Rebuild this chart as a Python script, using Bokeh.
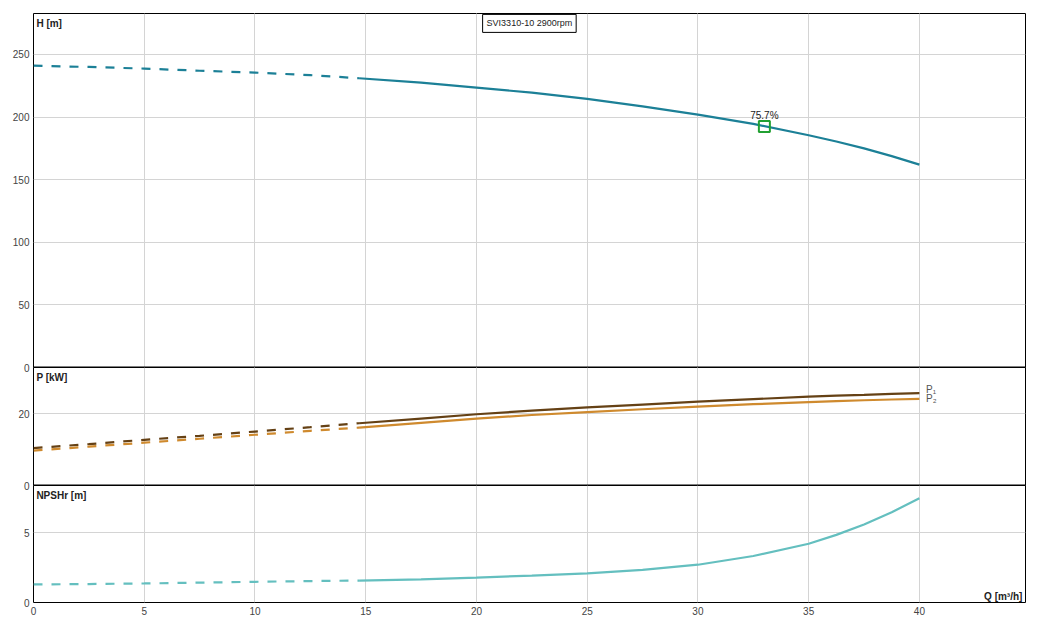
from bokeh.plotting import figure
from bokeh.layouts import column
from bokeh.models import Range1d, FixedTicker, Label, Grid, Span
from bokeh.embed import file_html
from bokeh.resources import INLINE

# ---- data ----
Q    = [0, 2.5, 5, 7.5, 10, 12.5, 14.7, 17.5, 20, 22.5, 25, 27.5, 30, 32.5, 35, 36.25, 37.5, 38.75, 40]
H    = [241, 240, 238.7, 237, 235.5, 233.5, 231, 227.5, 223.5, 219.5, 214.5, 208.5, 202, 194.5, 185.5, 180.5, 175, 168.8, 162]
P1   = [10.4, 11.5, 12.7, 13.8, 15.0, 16.2, 17.3, 18.6, 19.8, 20.8, 21.7, 22.5, 23.3, 24.0, 24.7, 25.0, 25.2, 25.45, 25.7]
P2   = [9.7, 10.8, 11.9, 13.0, 14.1, 15.2, 16.1, 17.4, 18.6, 19.6, 20.4, 21.2, 21.9, 22.6, 23.2, 23.45, 23.7, 23.9, 24.1]
NPSH = [1.29, 1.32, 1.36, 1.42, 1.48, 1.53, 1.57, 1.65, 1.78, 1.92, 2.08, 2.33, 2.70, 3.32, 4.20, 4.83, 5.58, 6.45, 7.45]
Q_MIN = 14.7

X_TICKS = [0, 5, 10, 15, 20, 25, 30, 35, 40]
H_TICKS = [0, 50, 100, 150, 200, 250]
P_TICKS = [0, 20]
N_TICKS = [0, 5]

TITLE = "SVI3310-10 2900rpm"
DUTY_Q, DUTY_H, DUTY_EFF = 33.0, 192.5, "75.7%"
LABEL_H, LABEL_P, LABEL_N, LABEL_Q = "H [m]", "P [kW]", "NPSHr [m]", "Q [m³/h]"
LABEL_P1, LABEL_P2 = "P₁", "P₂"

FONT = "Liberation Sans"
GRID = "#d4d4d4"
C_H, C_P1, C_P2, C_N = "#1c8097", "#654115", "#cf8a2e", "#64bfbf"
DASH = "9 9"

x_range = Range1d(0, 44.79)


def split(vals):
    dq = [q for q in Q if q <= Q_MIN]
    dv = [v for q, v in zip(Q, vals) if q <= Q_MIN]
    sq = [q for q in Q if q >= Q_MIN]
    sv = [v for q, v in zip(Q, vals) if q >= Q_MIN]
    return dq, dv, sq, sv


def panel(height, y_end, yticks, top, bottom, with_xaxis, margin):
    kw = {} if with_xaxis else {"x_axis_location": None}
    p = figure(width=1035, height=height, x_range=x_range, y_range=Range1d(0, y_end),
               output_backend="svg", toolbar_location=None,
               min_border_left=33, min_border_right=10,
               min_border_top=top, min_border_bottom=bottom, margin=margin, **kw)
    p.border_fill_color = None
    p.background_fill_color = "white"
    p.outline_line_color = "black"
    p.outline_line_width = 1
    ya = p.yaxis[0]
    ya.ticker = FixedTicker(ticks=yticks)
    ya.axis_line_color = None
    ya.major_tick_line_color = None
    ya.minor_tick_line_color = None
    ya.major_tick_out = 0
    ya.major_tick_in = 0
    ya.major_label_standoff = 4
    ya.major_label_text_font = FONT
    ya.major_label_text_font_size = "10px"
    ya.major_label_text_color = "#444444"
    p.ygrid.grid_line_color = GRID
    if with_xaxis:
        xa = p.xaxis[0]
        xa.ticker = FixedTicker(ticks=X_TICKS)
        xa.axis_line_color = None
        xa.major_tick_line_color = None
        xa.minor_tick_line_color = None
        xa.major_tick_out = 0
        xa.major_tick_in = 0
        xa.major_label_standoff = 4
        xa.major_label_text_font = FONT
        xa.major_label_text_font_size = "10px"
        xa.major_label_text_color = "#444444"
        p.xgrid.grid_line_color = GRID
    else:
        p.add_layout(Grid(dimension=0, ticker=FixedTicker(ticks=X_TICKS), grid_line_color=GRID))
    return p


def corner_label(p, x, y, text, align="left", baseline="top"):
    p.add_layout(Label(x=x, y=y, text=text, text_font=FONT, text_font_size="10px",
                       text_font_style="bold", text_color="#222222",
                       text_align=align, text_baseline=baseline))


# ---- head panel ----
ph = panel(373, 282.7, H_TICKS, 13, 6, False, (0, 0, 0, 0))
dq, dv, sq, sv = split(H)
ph.line(dq, dv, line_color=C_H, line_width=2.2, line_dash=DASH)
ph.line(sq, sv, line_color=C_H, line_width=2.2)
ph.scatter([DUTY_Q], [DUTY_H], marker="square", size=11, fill_color=None,
           line_color="#22a032", line_width=2)
ph.add_layout(Label(x=DUTY_Q, y=DUTY_H + 4.5, text=DUTY_EFF, text_font=FONT,
                    text_font_size="10px", text_color="#222222",
                    text_align="center", text_baseline="bottom"))
corner_label(ph, 0.13, 279.0, LABEL_H)
ph.add_layout(Label(x=22.39, y=274.8, text=TITLE, text_font=FONT, text_font_size="9px",
                    text_color="#222222", text_align="center", text_baseline="middle",
                    border_line_color="black", border_line_width=1,
                    background_fill_color="white", padding=4))
ph.add_layout(Span(location=0, dimension="width", line_color="black", line_width=2))

# ---- power panel ----
pp = panel(124, 32.8, P_TICKS, 0, 6, False, (-6, 0, 0, 0))
for vals, col in ((P1, C_P1), (P2, C_P2)):
    dq, dv, sq, sv = split(vals)
    pp.line(dq, dv, line_color=col, line_width=2.2, line_dash=DASH)
    pp.line(sq, sv, line_color=col, line_width=2.2)
pp.add_layout(Label(x=40.3, y=P1[-1] + 0.9, text=LABEL_P1, text_font=FONT, text_font_size="10px",
                    text_color="#555555", text_align="left", text_baseline="middle"))
pp.add_layout(Label(x=40.3, y=P2[-1] + 0.2, text=LABEL_P2, text_font=FONT, text_font_size="10px",
                    text_color="#555555", text_align="left", text_baseline="middle"))
corner_label(pp, 0.13, 31.5, LABEL_P)
pp.add_layout(Span(location=0, dimension="width", line_color="black", line_width=2))

# ---- NPSH panel ----
pn = panel(140, 8.36, N_TICKS, 0, 23, True, (-6, 0, 0, 0))
dq, dv, sq, sv = split(NPSH)
pn.line(dq, dv, line_color=C_N, line_width=2.2, line_dash=DASH)
pn.line(sq, sv, line_color=C_N, line_width=2.2)
corner_label(pn, 0.13, 8.05, LABEL_N)
corner_label(pn, 44.65, 0.45, LABEL_Q, align="right", baseline="middle")

layout = column(ph, pp, pn, spacing=0)
open("out.html", "w").write(file_html(layout, INLINE))
